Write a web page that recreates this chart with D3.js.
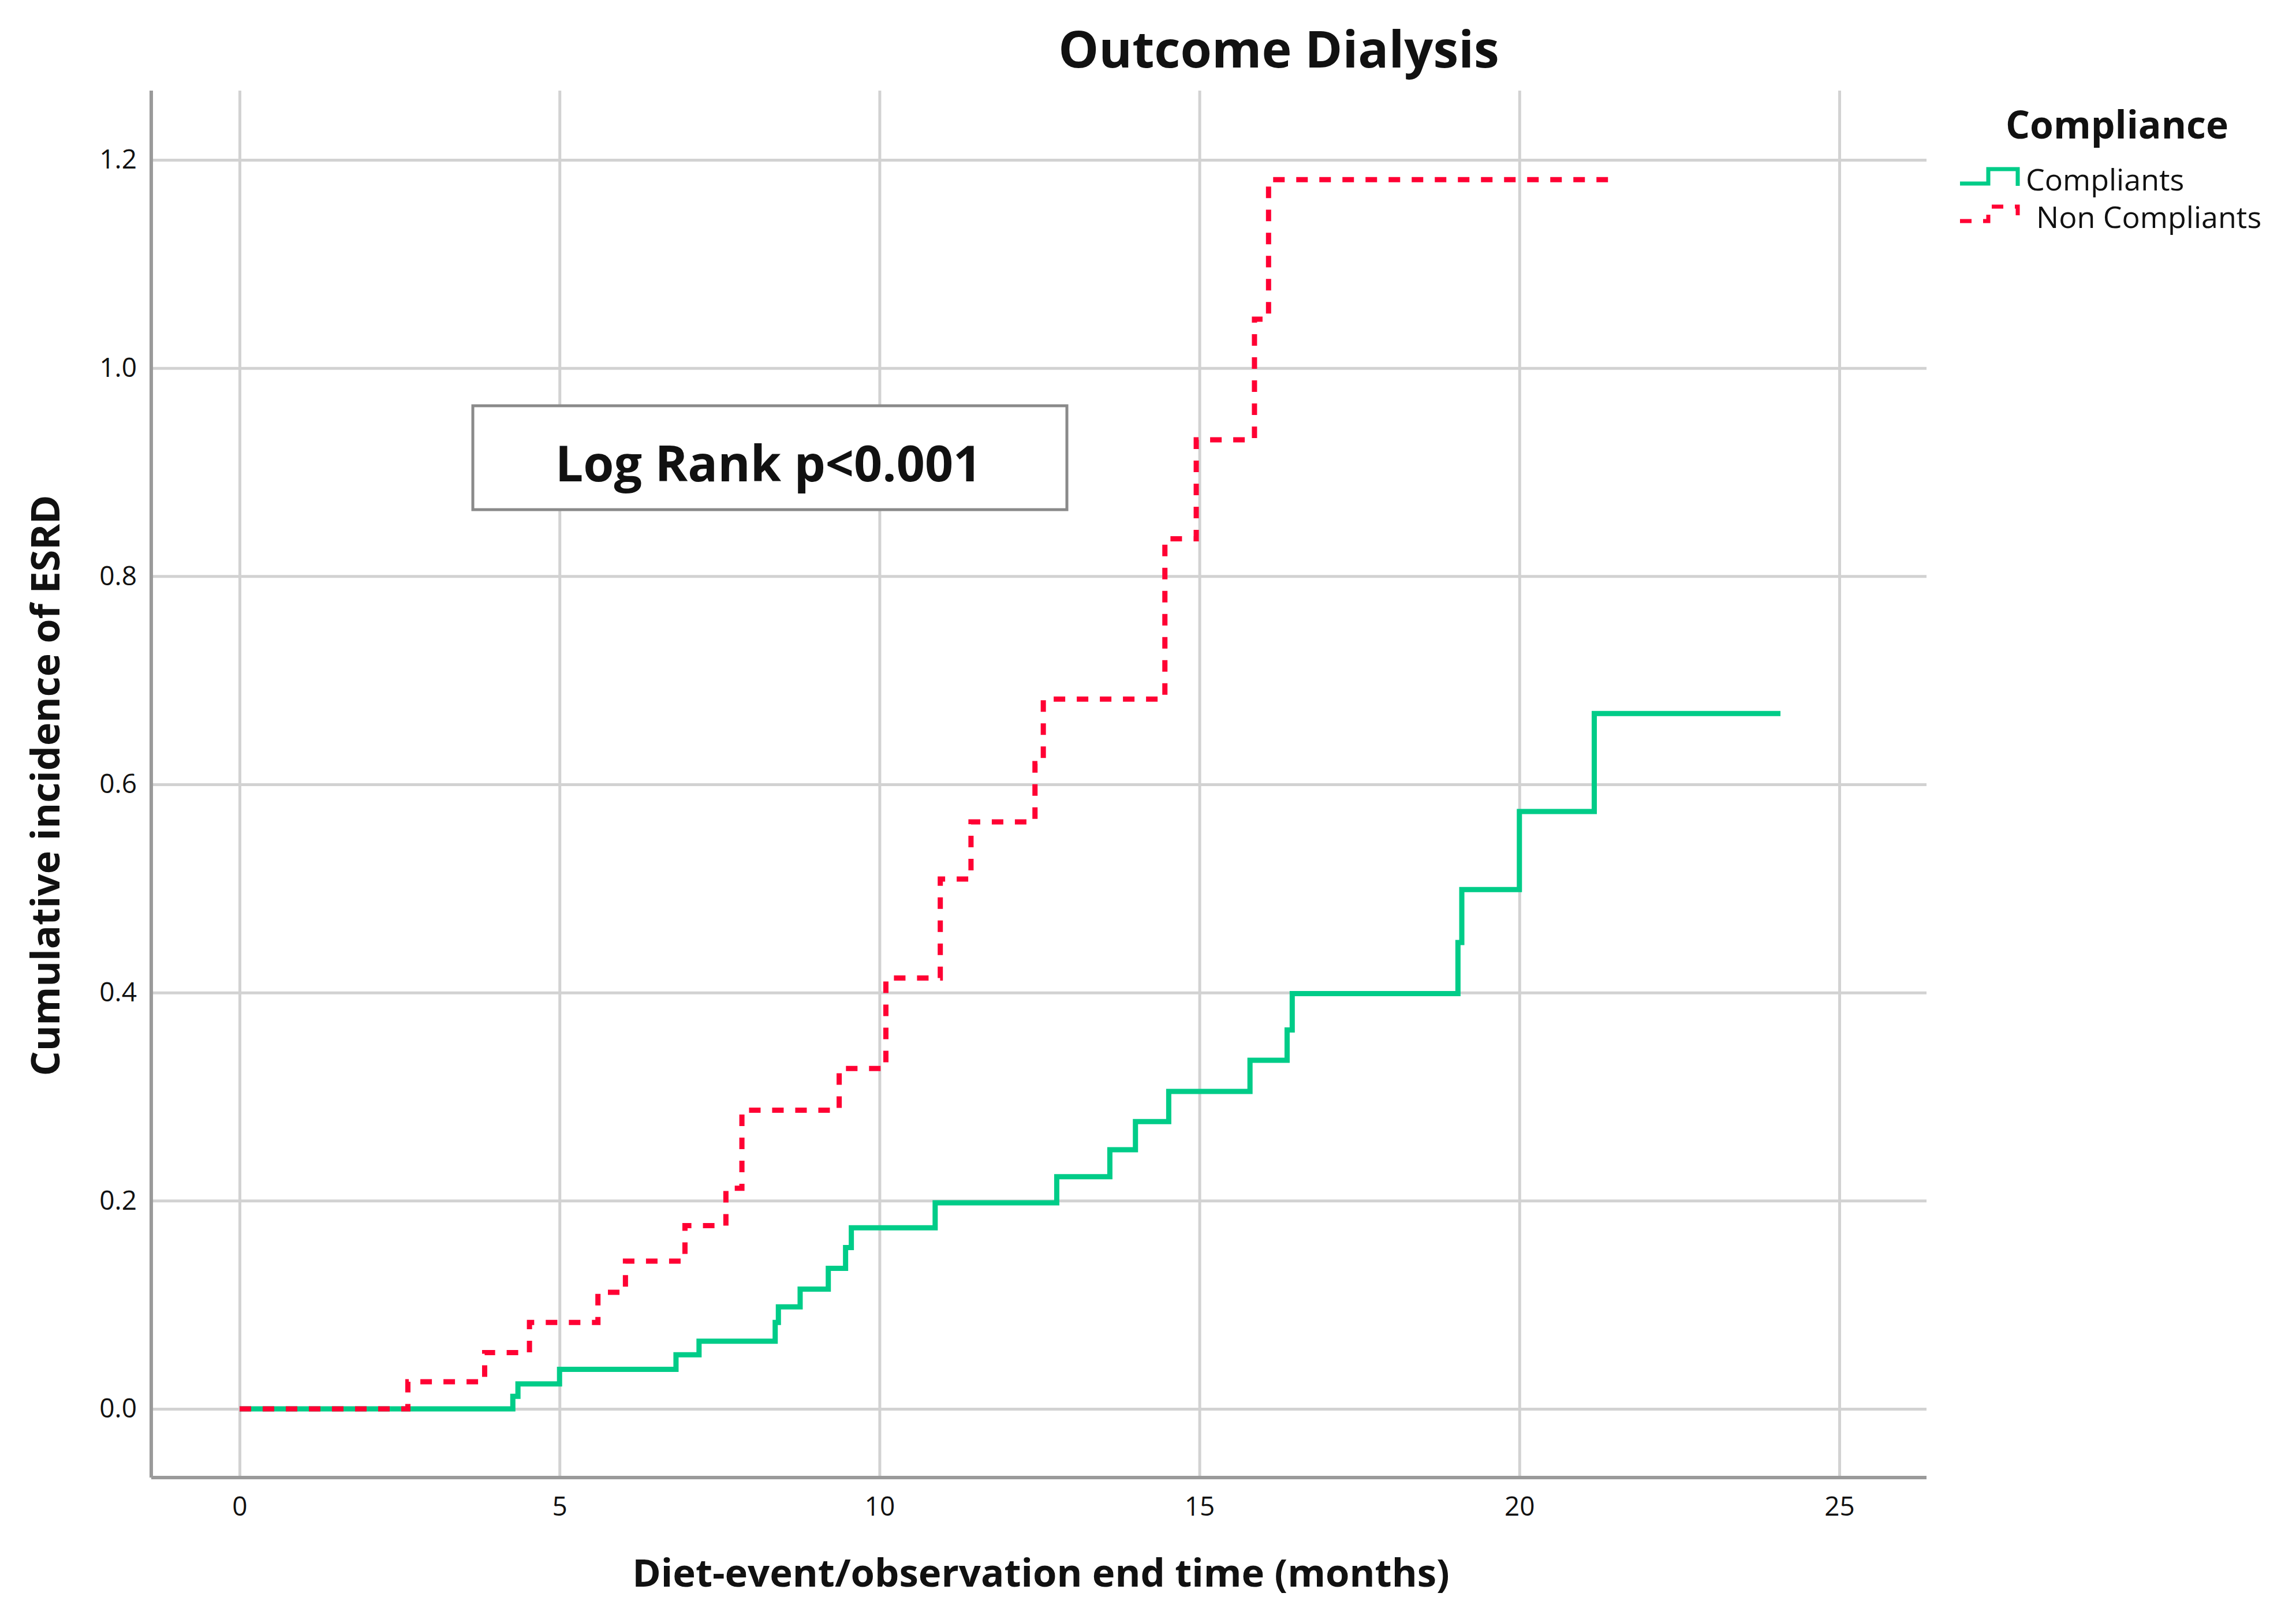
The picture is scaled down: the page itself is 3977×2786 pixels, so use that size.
<!DOCTYPE html>
<html>
<head>
<meta charset="utf-8">
<script src="https://cdn.jsdelivr.net/npm/d3@7"></script>
<style>
    body { margin: 0; background: #fff; }
    text { font-family: "Open Sans", "DejaVu Sans", sans-serif; fill: #111; }
</style>
</head>
<body>
<div id="chart"></div>
<script>
// step curve data (months, cumulative incidence)
const compliantTimes = [0, 4.27, 4.35, 5.0, 6.82, 7.18, 8.37, 8.42, 8.76, 9.2, 9.47, 9.56, 10.87, 12.77, 13.6, 14.0, 14.52, 15.79, 16.37, 16.45, 19.04, 19.1, 20.0, 21.17, 24.08];
const compliantValues = [0, 0.012, 0.024, 0.038, 0.052, 0.065, 0.083, 0.098, 0.115, 0.135, 0.155, 0.174, 0.198, 0.223, 0.249, 0.276, 0.305, 0.335, 0.364, 0.399, 0.448, 0.499, 0.574, 0.668, 0.668];

const nonCompliantTimes = [0, 2.63, 3.83, 4.53, 5.6, 6.03, 6.96, 7.6, 7.85, 9.37, 10.1, 10.95, 11.43, 12.43, 12.56, 14.46, 14.95, 15.86, 16.08, 21.5];
const nonCompliantValues = [0, 0.026, 0.054, 0.083, 0.112, 0.142, 0.176, 0.212, 0.287, 0.327, 0.414, 0.509, 0.564, 0.62, 0.682, 0.836, 0.931, 1.047, 1.181, 1.181];

const xTicks = [0, 5, 10, 15, 20, 25];
const yTicks = [0, 0.2, 0.4, 0.6, 0.8, 1.0, 1.2];
const seriesNames = ['Compliants', 'Non Compliants'];

const width = 3977, height = 2786;
const frame = {left: 262, right: 3337, top: 157, bottom: 2560};

const x = d3.scaleLinear().domain([0, 25]).range([415, 3186]);
const y = d3.scaleLinear().domain([0, 1.2]).range([2441, 277]);

const svg = d3.select('#chart').append('svg')
    .attr('width', width).attr('height', height)
    .attr('viewBox', [0, 0, width, height]);

// grid
svg.append('g')
    .attr('transform', `translate(0,${frame.bottom})`)
    .call(d3.axisBottom(x).tickValues(xTicks).tickSize(-(frame.bottom - frame.top)).tickFormat(''))
    .call(g => g.select('.domain').remove())
    .call(g => g.selectAll('line').attr('stroke', '#d2d2d2').attr('stroke-width', 5));

svg.append('g')
    .attr('transform', `translate(${frame.left},0)`)
    .call(d3.axisLeft(y).tickValues(yTicks).tickSize(-(frame.right - frame.left)).tickFormat(''))
    .call(g => g.select('.domain').remove())
    .call(g => g.selectAll('line').attr('stroke', '#d2d2d2').attr('stroke-width', 5));

// axis lines
svg.append('line').attr('x1', frame.left).attr('x2', frame.left)
    .attr('y1', frame.top).attr('y2', frame.bottom)
    .attr('stroke', '#9a9a9a').attr('stroke-width', 6);
svg.append('line').attr('x1', frame.left).attr('x2', frame.right)
    .attr('y1', frame.bottom).attr('y2', frame.bottom)
    .attr('stroke', '#9a9a9a').attr('stroke-width', 6);

// tick labels
svg.append('g')
    .attr('transform', `translate(${frame.left},0)`)
    .call(d3.axisLeft(y).tickValues(yTicks).tickSize(0).tickPadding(25).tickFormat(d3.format('.1f')))
    .call(g => g.select('.domain').remove())
    .call(g => g.selectAll('text').attr('font-size', 46).attr('font-family', '"Open Sans", sans-serif').attr('fill', '#222'));

svg.append('g')
    .attr('transform', `translate(0,${frame.bottom})`)
    .call(d3.axisBottom(x).tickValues(xTicks).tickSize(0).tickPadding(33).tickFormat(d3.format('d')))
    .call(g => g.select('.domain').remove())
    .call(g => g.selectAll('text').attr('font-size', 46).attr('font-family', '"Open Sans", sans-serif').attr('fill', '#222'));

// curves
const step = d3.line().x(d => x(d[0])).y(d => y(d[1])).curve(d3.curveStepAfter);
const compliant = d3.zip(compliantTimes, compliantValues);
const nonCompliant = d3.zip(nonCompliantTimes, nonCompliantValues);

svg.append('path').datum(compliant)
    .attr('d', step).attr('fill', 'none')
    .attr('stroke', '#00cc88').attr('stroke-width', 9);

svg.append('path').datum(nonCompliant)
    .attr('d', step).attr('fill', 'none')
    .attr('stroke', '#ff0033').attr('stroke-width', 9)
    .attr('stroke-dasharray', '20,20');

// log rank box
svg.append('rect').attr('x', 819).attr('y', 703).attr('width', 1029).attr('height', 180)
    .attr('fill', '#fff').attr('stroke', '#8a8a8a').attr('stroke-width', 5);
svg.append('text').attr('x', 1331).attr('y', 834)
    .attr('text-anchor', 'middle').attr('font-size', 86).attr('font-weight', 'bold')
    .text('Log Rank p<0.001');

// titles
svg.append('text').attr('x', 2215).attr('y', 117)
    .attr('text-anchor', 'middle').attr('font-size', 88).attr('font-weight', 'bold')
    .text('Outcome Dialysis');

svg.append('text').attr('x', 1803).attr('y', 2749)
    .attr('text-anchor', 'middle').attr('font-size', 67).attr('font-weight', 'bold')
    .text('Diet-event/observation end time (months)');

svg.append('text')
    .attr('transform', 'translate(103,1361) rotate(-90)')
    .attr('text-anchor', 'middle').attr('font-size', 68).attr('font-weight', 'bold')
    .text('Cumulative incidence of ESRD');

// legend
svg.append('text').attr('x', 3667).attr('y', 240)
    .attr('text-anchor', 'middle').attr('font-size', 66).attr('font-weight', 'bold')
    .text('Compliance');

const legendColors = ['#00cc88', '#ff0033'];
const legendDash = [null, '20,20'];
seriesNames.forEach((name, i) => {
    const low = 318 + i * 65, high = low - 25;
    const pts = [[3395, low], [3444, low], [3444, high], [3495, high], [3495, low + 4]];
    svg.append('path')
        .attr('d', d3.line()(pts))
        .attr('fill', 'none').attr('stroke', legendColors[i]).attr('stroke-width', 7)
        .attr('stroke-dasharray', legendDash[i]);
    svg.append('text').attr('x', 3509 + (i === 1 ? 18 : 0)).attr('y', 330 + i * 65)
        .attr('font-size', 52)
        .text(name);
});
</script>
</body>
</html>
